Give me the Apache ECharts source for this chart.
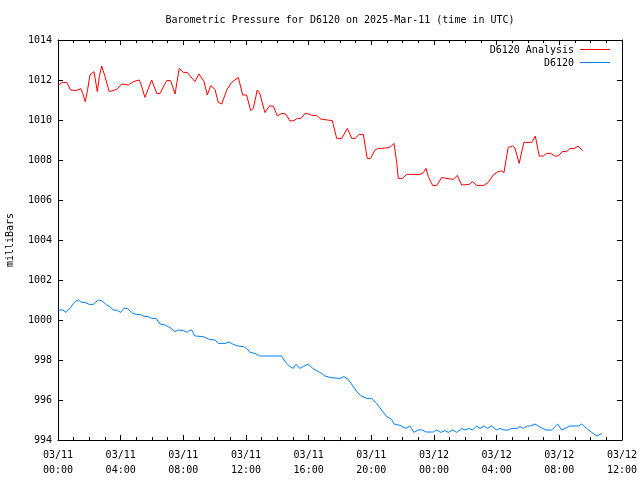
<!DOCTYPE html>
<html>
<head>
<meta charset="utf-8">
<script src="https://cdn.jsdelivr.net/npm/echarts@6/dist/echarts.min.js"></script>
<style>html,body{margin:0;padding:0;background:#fff}#c{width:640px;height:480px}</style>
</head>
<body>
<div id="c"></div>
<script>
// hours since 2025-03-11 00:00 UTC
var redHours = [0.02,0.30,0.56,0.81,1.15,1.45,1.58,1.74,1.87,2.04,
2.30,2.51,2.64,2.79,3.00,3.27,3.75,4.07,4.49,4.81,
5.19,5.28,5.55,5.98,6.30,6.51,6.94,7.19,7.47,7.74,
8.00,8.25,8.74,9.00,9.32,9.53,9.75,10.02,10.23,10.45,
10.77,11.09,11.51,11.79,12.04,12.30,12.47,12.72,12.89,13.21,
13.49,13.74,14.00,14.28,14.53,14.81,15.06,15.27,15.51,15.77,
16.02,16.19,16.51,16.77,17.19,17.51,17.79,18.11,18.47,18.75,
18.96,19.23,19.49,19.74,19.96,20.23,20.44,20.66,21.08,21.25,
21.45,21.62,21.72,21.98,22.26,23.11,23.32,23.49,23.64,23.92,
24.17,24.49,25.23,25.49,25.77,26.25,26.47,26.72,27.19,27.47,
27.78,28.10,28.32,28.47,28.60,28.74,29.02,29.17,29.44,29.60,
29.74,30.24,30.38,30.47,30.72,30.98,31.19,31.45,31.72,31.93,
32.19,32.47,32.68,32.94,33.21,33.49];
var redValues = [1011.75,1011.88,1011.87,1011.5,1011.47,1011.57,1011.33,1010.92,1011.42,1012.25,
1012.42,1011.42,1012.17,1012.7,1012.17,1011.42,1011.53,1011.8,1011.75,1011.92,
1012.0,1011.83,1011.13,1012.0,1011.33,1011.33,1011.97,1011.97,1011.3,1012.58,
1012.38,1012.38,1011.92,1012.3,1011.92,1011.25,1011.72,1011.53,1010.88,1010.8,
1011.5,1011.88,1012.13,1011.25,1011.25,1010.47,1010.58,1011.5,1011.3,1010.37,
1010.7,1010.7,1010.2,1010.33,1010.3,1009.95,1009.97,1010.08,1010.08,1010.33,
1010.3,1010.23,1010.23,1010.05,1010.0,1009.97,1009.08,1009.08,1009.58,1009.08,
1009.08,1009.28,1009.28,1008.08,1008.08,1008.5,1008.57,1008.58,1008.62,1008.67,
1008.83,1007.9,1007.08,1007.08,1007.28,1007.28,1007.37,1007.58,1007.17,1006.72,
1006.72,1007.12,1007.03,1007.23,1006.75,1006.78,1006.93,1006.73,1006.73,1006.88,
1007.25,1007.42,1007.45,1007.37,1008.0,1008.63,1008.7,1008.6,1007.83,1008.4,
1008.88,1008.88,1009.05,1009.2,1008.2,1008.2,1008.33,1008.33,1008.2,1008.2,
1008.42,1008.42,1008.57,1008.57,1008.7,1008.47];

var blueHours = [0.02,0.30,0.51,0.81,1.09,1.30,1.51,1.72,2.00,2.25,
2.57,2.79,3.11,3.32,3.53,3.79,4.00,4.21,4.42,4.77,
5.02,5.23,5.44,5.76,5.98,6.26,6.51,6.83,7.15,7.47,
7.68,8.00,8.25,8.38,8.53,8.74,9.27,9.66,10.02,10.23,
10.66,10.93,11.19,11.51,11.83,12.04,12.26,12.57,12.89,14.28,
14.49,14.81,15.02,15.19,15.45,15.66,15.98,16.26,16.61,16.83,
17.04,17.41,18.00,18.25,18.53,18.85,19.17,19.38,19.70,20.02,
20.34,20.66,20.98,21.30,21.45,21.83,22.21,22.47,22.72,23.00,
23.28,23.49,23.96,24.17,24.43,24.70,24.91,25.19,25.45,25.77,
25.98,26.25,26.47,26.72,26.94,27.19,27.40,27.68,28.00,28.21,
28.47,28.74,28.96,29.28,29.49,29.70,29.96,30.17,30.45,30.72,
31.15,31.51,31.90,32.15,32.47,32.68,33.21,33.43,33.75,34.06,
34.42,34.70];
var blueValues = [1000.5,1000.5,1000.38,1000.63,1000.92,1001.0,1000.88,1000.88,1000.78,1000.78,
1001.0,1000.97,1000.75,1000.67,1000.5,1000.48,1000.38,1000.58,1000.58,1000.33,
1000.28,1000.28,1000.2,1000.17,1000.08,1000.08,999.8,999.75,999.62,999.42,
999.5,999.47,999.38,999.47,999.5,999.2,999.17,999.03,999.0,998.83,
998.83,998.9,998.78,998.7,998.67,998.58,998.38,998.33,998.2,998.2,
997.92,997.67,997.58,997.78,997.58,997.67,997.8,997.58,997.42,997.33,
997.2,997.12,997.08,997.17,997.03,996.67,996.33,996.2,996.08,996.08,
995.83,995.5,995.17,995.03,994.8,994.73,994.58,994.7,994.38,994.5,
994.5,994.4,994.4,994.5,994.38,994.47,994.38,994.5,994.38,994.58,
994.5,994.58,994.5,994.7,994.58,994.7,994.58,994.7,994.5,994.58,
994.5,994.5,994.58,994.58,994.67,994.58,994.7,994.7,994.8,994.67,
994.5,994.5,994.8,994.5,994.62,994.7,994.7,994.8,994.58,994.38,
994.2,994.33];

var seriesNames = ['D6120 Analysis', 'D6120'];
var titleText = 'Barometric Pressure for D6120 on 2025-Mar-11 (time in UTC)';
var yLabel = 'milliBars';

function pairs(h, v) { var out = []; for (var i = 0; i < h.length; i++) out.push([h[i], v[i]]); return out; }
function pad(n) { return (n < 10 ? '0' : '') + n; }
function xFmt(h) {
  var day = 11 + Math.floor(h / 24);
  var hh = Math.round(h % 24);
  return '03/' + pad(day) + '\n' + pad(hh) + ':00';
}
function yFmt(v) { return String(Math.round(v)); }

var FONT = 'DejaVu Sans Mono';
var chart = echarts.init(document.getElementById('c'), null, {renderer: 'canvas'});
var axisLineStyle = {color: '#000', width: 1};
chart.setOption({
  animation: false,
  backgroundColor: '#fff',
  textStyle: {fontFamily: FONT},
  grid: {left: 58, right: 18, top: 40, bottom: 40, containLabel: false},
  xAxis: [{
    type: 'value', min: 0, max: 36, interval: 4, position: 'bottom',
    axisLine: {show: true, onZero: false, lineStyle: axisLineStyle},
    axisTick: {show: true, inside: true, length: 5, lineStyle: axisLineStyle},
    minorTick: {show: true, splitNumber: 4, length: 3, lineStyle: axisLineStyle},
    splitLine: {show: false},
    axisLabel: {formatter: xFmt, color: '#000', fontFamily: FONT, fontSize: 10, lineHeight: 15, margin: 8}
  }, {
    type: 'value', min: 0, max: 36, interval: 4, position: 'top',
    axisLine: {show: true, onZero: false, lineStyle: axisLineStyle},
    axisTick: {show: true, inside: true, length: 5, lineStyle: axisLineStyle},
    minorTick: {show: true, splitNumber: 4, length: 3, lineStyle: axisLineStyle},
    splitLine: {show: false},
    axisLabel: {show: false}
  }],
  yAxis: [{
    type: 'value', min: 994, max: 1014, interval: 2, position: 'left',
    axisLine: {show: true, onZero: false, lineStyle: axisLineStyle},
    axisTick: {show: true, inside: true, length: 5, lineStyle: axisLineStyle},
    splitLine: {show: false},
    axisLabel: {formatter: yFmt, color: '#000', fontFamily: FONT, fontSize: 10, margin: 6}
  }, {
    type: 'value', min: 994, max: 1014, interval: 2, position: 'right',
    axisLine: {show: true, onZero: false, lineStyle: axisLineStyle},
    axisTick: {show: true, inside: true, length: 5, lineStyle: axisLineStyle},
    splitLine: {show: false},
    axisLabel: {show: false}
  }],
  series: [{
    name: seriesNames[0], type: 'line', data: pairs(redHours, redValues),
    showSymbol: false, symbol: 'none', lineStyle: {color: '#ff0000', width: 1}, itemStyle: {color: '#ff0000'}
  }, {
    name: seriesNames[1], type: 'line', data: pairs(blueHours, blueValues),
    showSymbol: false, symbol: 'none', lineStyle: {color: '#0080ff', width: 1}, itemStyle: {color: '#0080ff'}
  }],
  graphic: [
    {type: 'text', silent: true, x: 0, y: 0,
     style: {text: titleText, x: 340, y: 20, textAlign: 'center', textVerticalAlign: 'middle', fill: '#000', font: '10px "DejaVu Sans Mono"'}},
    {type: 'text', silent: true, x: 10, y: 240, rotation: Math.PI / 2,
     style: {text: yLabel, x: 0, y: 0, textAlign: 'center', textVerticalAlign: 'middle', fill: '#000', font: '10px "DejaVu Sans Mono"'}},
    {type: 'text', silent: true, x: 0, y: 0,
     style: {text: seriesNames[0], x: 574, y: 50, textAlign: 'right', textVerticalAlign: 'middle', fill: '#000', font: '10px "DejaVu Sans Mono"'}},
    {type: 'line', silent: true, x: 0, y: 0, shape: {x1: 580, y1: 49.5, x2: 610, y2: 49.5}, style: {stroke: '#ff0000', lineWidth: 1}},
    {type: 'text', silent: true, x: 0, y: 0,
     style: {text: seriesNames[1], x: 574, y: 63, textAlign: 'right', textVerticalAlign: 'middle', fill: '#000', font: '10px "DejaVu Sans Mono"'}},
    {type: 'line', silent: true, x: 0, y: 0, shape: {x1: 580, y1: 62.5, x2: 610, y2: 62.5}, style: {stroke: '#0080ff', lineWidth: 1}}
  ]
});
</script>
</body>
</html>
